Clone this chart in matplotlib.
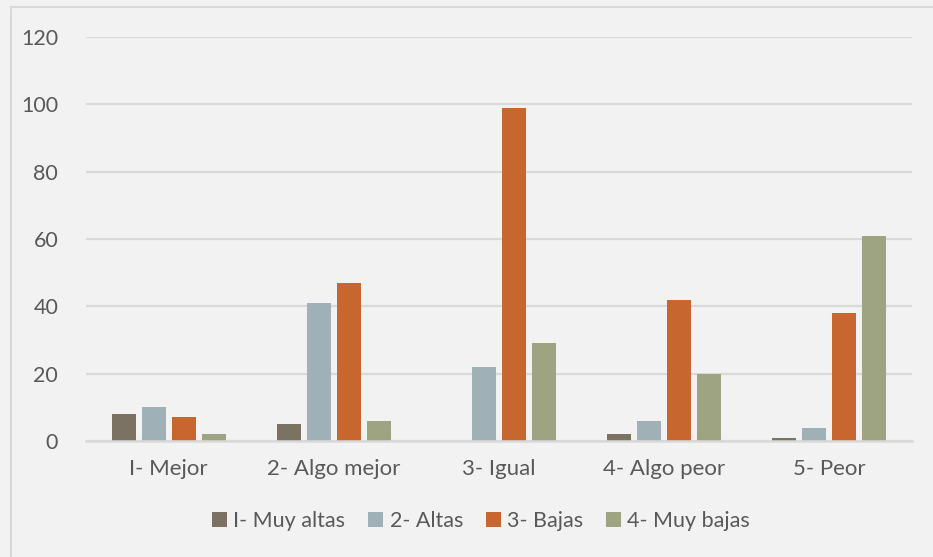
import numpy as np
import matplotlib.pyplot as plt
from matplotlib.patches import Rectangle

categories = ['I- Mejor', '2- Algo mejor', '3- Igual', '4- Algo peor', '5- Peor']
series_names = ['I- Muy altas', '2- Altas', '3- Bajas', '4- Muy bajas']
muy_altas = [8, 5, 0, 2, 1]
altas = [10, 41, 22, 6, 4]
bajas = [7, 47, 99, 42, 38]
muy_bajas = [2, 6, 29, 20, 61]
colors = ['#7b7264', '#9fb0b6', '#c8662f', '#9ea381']

plt.rcParams['font.family'] = ['Lato', 'DejaVu Sans']
text_color = '#595959'
bg = '#f2f2f2'

fig = plt.figure(figsize=(9.33, 5.57), dpi=100, facecolor=bg)
ax = fig.add_axes([0.0922, 0.2083, 0.8853, 0.7253], facecolor=bg)

x = np.arange(len(categories))
width = 0.145
step = 0.1816
for i, (vals, name) in enumerate(zip([muy_altas, altas, bajas, muy_bajas], series_names)):
    ax.bar(x + (i - 1.5) * step, vals, width, color=colors[i], label=name, zorder=3)

ax.set_xlim(-0.5, 4.5)
ax.set_ylim(0, 120)
ax.set_yticks(range(0, 121, 20))
ax.set_xticks(x)
ax.set_xticklabels(categories)
ax.grid(axis='y', color='#d9d9d9', linewidth=1.6, zorder=0)
for s in ['top', 'right', 'left']:
    ax.spines[s].set_visible(False)
ax.spines['bottom'].set_color('#d9d9d9')
ax.spines['bottom'].set_linewidth(1.8)
ax.spines['bottom'].set_zorder(4)
ax.tick_params(axis='both', length=0, labelcolor=text_color)
ax.tick_params(axis='y', pad=20, labelsize=15.5)
ax.tick_params(axis='x', pad=13, labelsize=16)

fig.legend(loc='center', bbox_to_anchor=(0.5155, 0.0646), ncol=4, frameon=False,
           fontsize=15.5, labelcolor=text_color, handlelength=0.7, handleheight=0.7,
           handletextpad=0.3, columnspacing=1.05)

# chart border
fig.patches.append(Rectangle((11 / 933, -0.1), 1.2, 1.1 - 7 / 557, transform=fig.transFigure,
                             fill=False, edgecolor='#d9d9d9', linewidth=1.5))

fig.savefig('out.png', dpi=100, facecolor=bg)
